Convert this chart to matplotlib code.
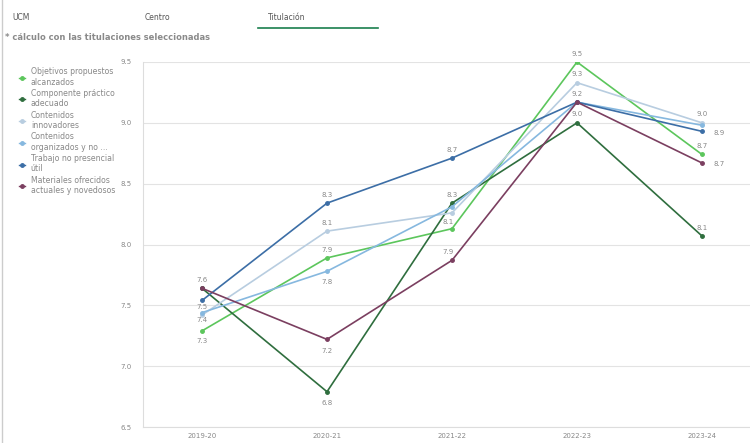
import matplotlib
matplotlib.use("Agg")
import matplotlib.pyplot as plt
from matplotlib.lines import Line2D

years = ["2019-20", "2020-21", "2021-22", "2022-23", "2023-24"]
series_names = [
    "Objetivos propuestos\nalcanzados",
    "Componente práctico\nadecuado",
    "Contenidos\ninnovadores",
    "Contenidos\norganizados y no ...",
    "Trabajo no presencial\nútil",
    "Materiales ofrecidos\nactuales y novedosos",
]
objetivos = [7.29, 7.89, 8.13, 9.50, 8.74]
practico = [7.64, 6.79, 8.34, 9.00, 8.07]
innovadores = [7.42, 8.11, 8.26, 9.33, 9.00]
organizados = [7.44, 7.78, 8.31, 9.17, 8.98]
trabajo = [7.54, 8.34, 8.71, 9.17, 8.93]
materiales = [7.64, 7.22, 7.87, 9.17, 8.67]
yticks = [6.5, 7.0, 7.5, 8.0, 8.5, 9.0, 9.5]

colors = ["#5cc65c", "#2f6e3e", "#b8cde0", "#86b8df", "#3c6ea6", "#7b3f60"]
data = [objetivos, practico, innovadores, organizados, trabajo, materiales]

# label placements: (dx, dy) in points per series per point
offsets = [
    [(0, -7), (0, 6), (-3, 5), (0, 6), (0, 6)],
    [(0, 6), (0, -8), (0, 6), (0, 6), (0, 6)],
    [None, (0, 6), None, (0, 6), (0, 6)],
    [(0, -5), (0, -8), None, None, None],
    [(0, -4.5), (0, 6), (0, 6), (0, 6), (8, -1)],
    [None, (0, -8), (-3, 6), None, (8, -1)],
]

fig = plt.figure(figsize=(7.5, 4.43), dpi=100)
ax = fig.add_axes([143/750, 1-427/443, 607/750, 365/443])

xs = list(range(len(years)))
for vals, col, offs in zip(data, colors, offsets):
    ax.plot(xs, vals, color=col, lw=1.2, marker="o", ms=2.5, zorder=3)
    for x, v, o in zip(xs, vals, offs):
        if o is None:
            continue
        ha = "left" if o[0] > 0 else "center"
        ax.annotate(f"{v:.1f}", (x, v), xytext=o, textcoords="offset points",
                    ha=ha, va="center", fontsize=5, color="#888888")

ax.set_xlim(-59/125, 4 + 48/125)
ax.set_ylim(6.5, 9.5)
ax.set_yticks(yticks)
ax.set_yticklabels([f"{t:.1f}" for t in yticks])
ax.set_xticks(xs)
ax.set_xticklabels(years)
ax.tick_params(axis="both", labelsize=5, colors="#888888", length=0, pad=4)
ax.tick_params(axis="y", pad=8)
ax.grid(axis="y", color="#e3e3e3", lw=0.8)
for s in ["top", "right"]:
    ax.spines[s].set_visible(False)
ax.spines["left"].set_color("#dddddd")
ax.spines["bottom"].set_color("#dddddd")
ax.set_axisbelow(True)

# legend
handles = [Line2D([0], [0], color=c, lw=1, marker="o", ms=2.5) for c in colors]
fig.legend(handles, series_names, loc="upper left", bbox_to_anchor=(16/750, 1-64/443),
           frameon=False, fontsize=5.6, labelcolor="#888888", handlelength=0.8,
           handletextpad=0.7, labelspacing=0.3, borderaxespad=0)

# header
fig.text(12/750, 1-17/443, "UCM", fontsize=5.5, color="#555555", va="center")
fig.text(145/750, 1-17/443, "Centro", fontsize=5.5, color="#555555", va="center")
fig.text(268/750, 1-17/443, "Titulación", fontsize=5.5, color="#555555", va="center")
fig.add_artist(Line2D([258/750, 378/750], [1-28/443, 1-28/443], color="#1a7f4e", lw=1.2))
fig.text(5/750, 1-37/443, "* cálculo con las titulaciones seleccionadas", fontsize=6,
         color="#8a8a8a", fontweight="bold", va="center")
fig.add_artist(Line2D([2/750, 2/750], [0, 1], color="#cccccc", lw=1))

fig.savefig("out.png", dpi=100)
